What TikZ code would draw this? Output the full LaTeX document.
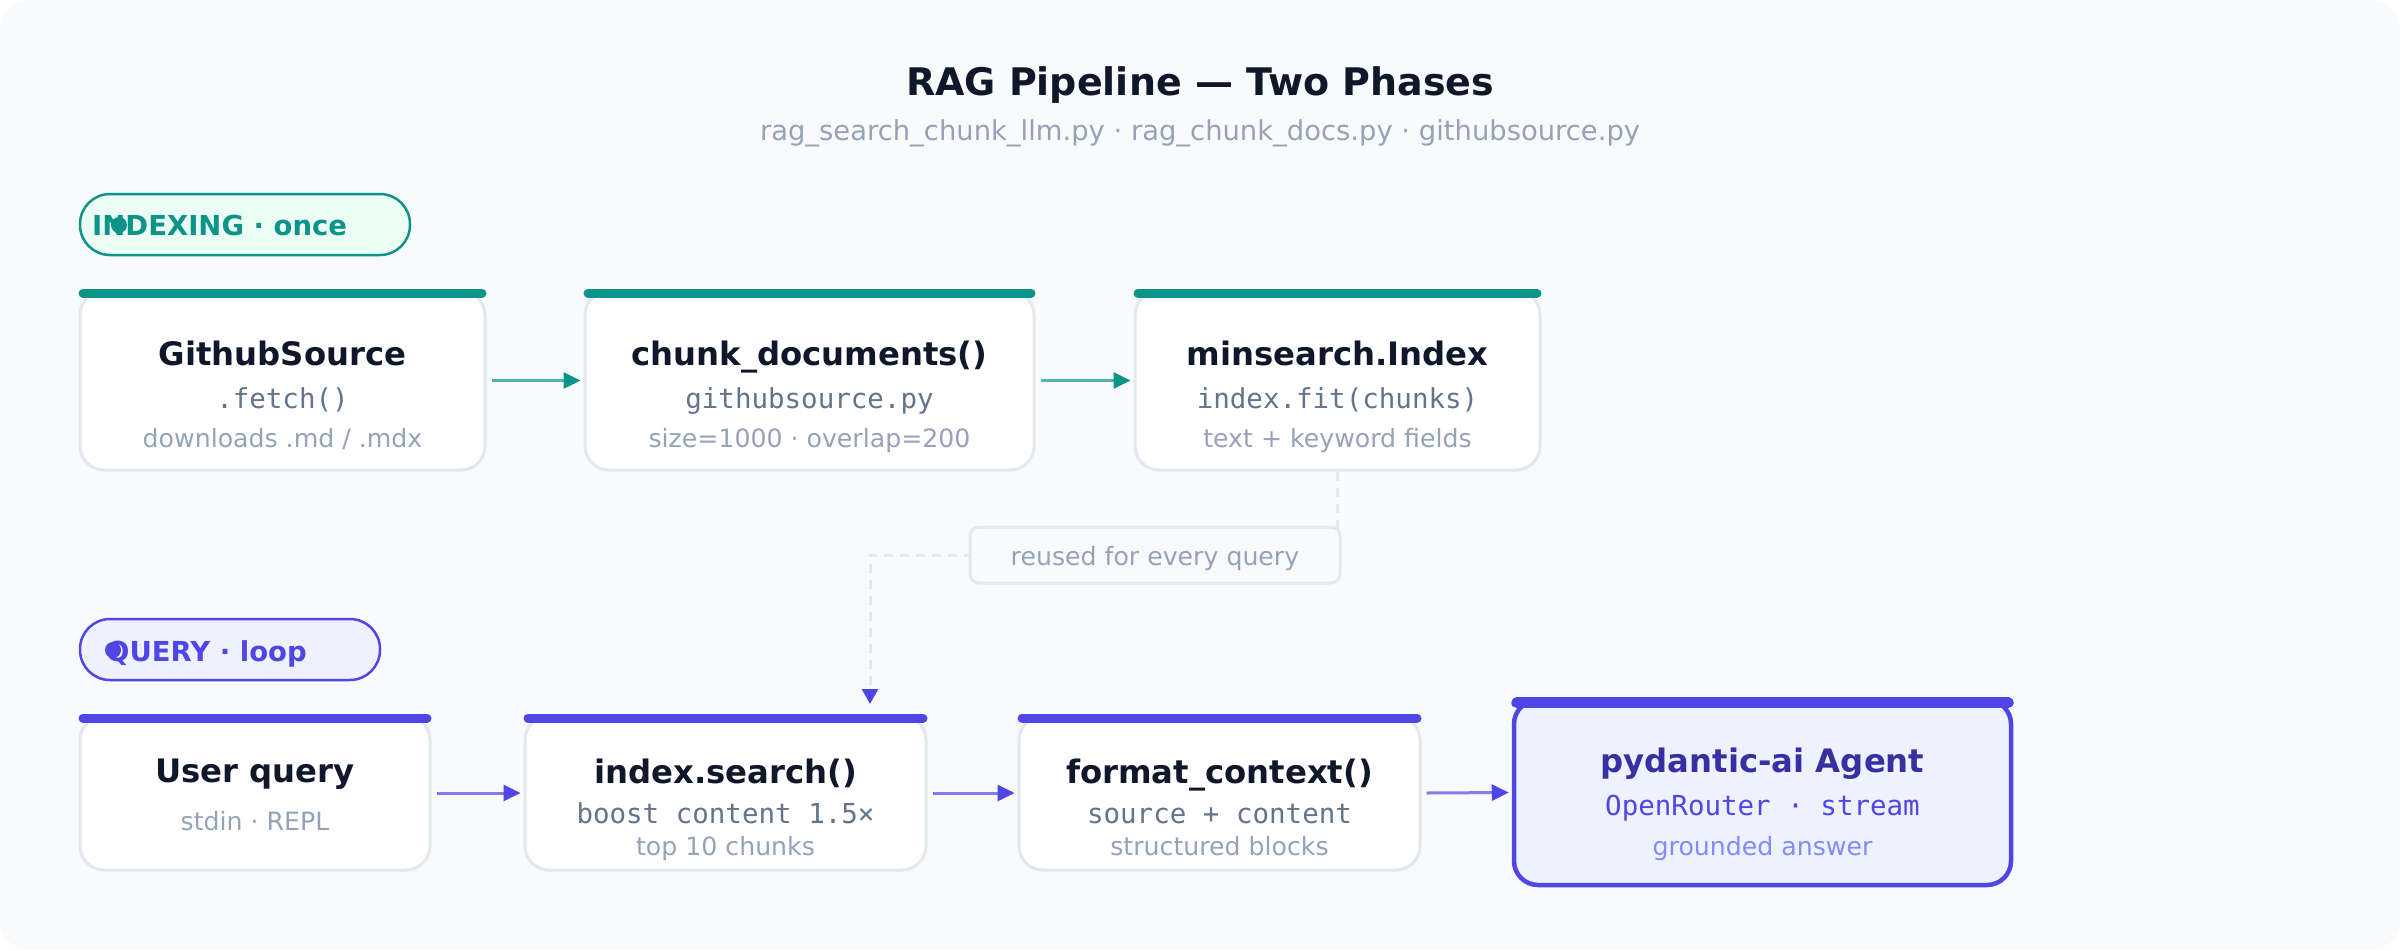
\documentclass[tikz,border=0pt]{standalone}
\usepackage{fontspec}
\setmainfont{DejaVu Sans}
\setmonofont{DejaVu Sans Mono}
\usetikzlibrary{arrows.meta,calc}
\definecolor{bgc}{HTML}{F8FAFC}
\definecolor{bordc}{HTML}{E2E8F0}
\definecolor{tealc}{HTML}{0D9488}
\definecolor{indigoc}{HTML}{4F46E5}
\definecolor{darkc}{HTML}{0F172A}
\definecolor{slatefive}{HTML}{64748B}
\definecolor{slatefour}{HTML}{94A3B8}
\definecolor{mintc}{HTML}{ECFDF5}
\definecolor{indigolt}{HTML}{EEF2FF}
\definecolor{indigodk}{HTML}{3730A3}
\definecolor{indigosub}{HTML}{818CF8}
\tikzset{
  card/.style={draw=bordc, line width=3pt, fill=white, rounded corners=24pt, inner sep=0pt},
  agentcard/.style={draw=indigoc, line width=4.5pt, fill=indigolt, rounded corners=24pt, inner sep=0pt},
  topbar/.style={line width=9pt, line cap=round},
  ttl/.style={anchor=base, inner sep=0pt, text=darkc, font=\fontsize{32.3}{38}\selectfont\bfseries},
  mon/.style={anchor=base, inner sep=0pt, text=slatefive, font=\fontsize{27.5}{32}\selectfont\ttfamily},
  sub/.style={anchor=base, inner sep=0pt, text=slatefour, font=\fontsize{25.2}{30}\selectfont},
  badge/.style={line width=2.5pt, rounded corners=30pt, inner sep=0pt, minimum height=61pt},
  badgetext/.style={anchor=base west, inner sep=0pt, font=\fontsize{27.5}{32}\selectfont\bfseries},
  tarrow/.style={draw=tealc!70!bgc, line width=3pt, -{Triangle[length=17pt,width=16pt,color=tealc]}},
  qarrow/.style={draw=indigoc!70!bgc, line width=3pt, -{Triangle[length=17pt,width=16pt,color=indigoc]}},
  dashline/.style={draw=bordc, line width=3pt, dash pattern=on 9pt off 7pt, -{Triangle[length=15pt,width=16pt,color=indigoc]}}
}
\begin{document}
\begin{tikzpicture}[x=1pt,y=-1pt]
\useasboundingbox (0,0) rectangle (2400,950);
\fill[white] (0,0) rectangle (2400,950);
\fill[bgc, rounded corners=30pt] (0,0) rectangle (2400,950);

% title
\node[anchor=base, inner sep=0pt, text=darkc, font=\fontsize{38}{44}\selectfont\bfseries] (title) at (1200,95) {RAG Pipeline — Two Phases};
\node[anchor=base, inner sep=0pt, text=slatefour, font=\fontsize{27.4}{32}\selectfont] (subtitle) at (1200,140) {rag\_search\_chunk\_llm.py · rag\_chunk\_docs.py · githubsource.py};

% badges
\node[badge, draw=tealc, fill=mintc, minimum width=330pt] (bidx) at (245,224.5) {};
\node[badgetext, text=tealc] (bidxt) at (92,235) {INDEXING · once};
\fill[tealc] (119,225) circle (8pt);

\node[badge, draw=indigoc, fill=indigolt, minimum width=300pt] (bqry) at (230,649.5) {};
\node[badgetext, text=indigoc] (bqryt) at (106,661) {QUERY · loop};
\fill[indigoc] (113,650) circle (8pt);

% indexing row
\node[card, minimum width=405pt, minimum height=179pt] (A) at (282.5,380.5) {};
\node[card, minimum width=449pt, minimum height=179pt] (B) at (809.5,380.5) {};
\node[card, minimum width=405pt, minimum height=179pt] (C) at (1337.5,380.5) {};
\foreach \n in {A,B,C}{
  \draw[topbar, tealc] ($(\n.north west)+(4.5,3.5)$) -- ($(\n.north east)+(-4.5,3.5)$);
}
\node[ttl] (At) at (282.5,365) {GithubSource};
\node[mon] (Am) at (282.5,408) {.fetch()};
\node[sub] (As) at (282.5,447) {downloads .md / .mdx};
\node[ttl] (Bt) at (809.5,365) {chunk\_documents()};
\node[mon] (Bm) at (809.5,408) {githubsource.py};
\node[sub] (Bs) at (809.5,447) {size=1000 · overlap=200};
\node[ttl] (Ct) at (1337.5,365) {minsearch.Index};
\node[mon] (Cm) at (1337.5,408) {index.fit(chunks)};
\node[sub] (Cs) at (1337.5,447) {text + keyword fields};

\draw[tarrow] ([xshift=5pt]A.east) -- ([xshift=-3pt]B.west);
\draw[tarrow] ([xshift=5pt]B.east) -- ([xshift=-3pt]C.west);

% query row
\node[card, minimum width=350pt, minimum height=154pt] (D) at (255,793) {};
\node[card, minimum width=401pt, minimum height=154pt] (E) at (725.5,793) {};
\node[card, minimum width=401pt, minimum height=154pt] (F) at (1219.5,793) {};
\foreach \n in {D,E,F}{
  \draw[topbar, indigoc] ($(\n.north west)+(4.5,3.5)$) -- ($(\n.north east)+(-4.5,3.5)$);
}
\node[agentcard, minimum width=497pt, minimum height=185pt] (G) at (1762.5,792.5) {};
\draw[line width=11pt, line cap=round, indigoc] ($(G.north west)+(5,5)$) -- ($(G.north east)+(-5,5)$);

\node[ttl] (Dt) at (255,782) {User query};
\node[sub] (Ds) at (255,830) {stdin · REPL};
\node[ttl] (Et) at (725.5,783) {index.search()};
\node[mon] (Em) at (725.5,823) {boost content 1.5×};
\node[sub] (Es) at (725.5,855) {top 10 chunks};
\node[ttl] (Ft) at (1219.5,783) {format\_context()};
\node[mon] (Fm) at (1219.5,823) {source + content};
\node[sub] (Fs) at (1219.5,855) {structured blocks};
\node[ttl, text=indigodk] (Gt) at (1762.5,772) {pydantic-ai Agent};
\node[mon, text=indigoc] (Gm) at (1762.5,815) {OpenRouter · stream};
\node[sub, text=indigosub] (Gs) at (1762.5,855) {grounded answer};

\draw[qarrow] ([xshift=5pt]D.east) -- ([xshift=-3pt]E.west);
\draw[qarrow] ([xshift=5pt]E.east) -- ([xshift=-3pt]F.west);
\draw[qarrow] ([xshift=5pt]F.east) -- ([xshift=-3pt]G.west);

% reuse connector
\coordinate (bendA) at (1337.5,555);
\coordinate (bendB) at (870,555);
\coordinate (ein) at (870,716);
\draw[dashline, shorten >=12pt] (C.south) -- (bendA) -- (bendB) -- (ein);
\node[draw=bordc, line width=3pt, fill=bgc, rounded corners=9pt, minimum width=370pt, minimum height=56pt, inner sep=0pt] (note) at (1155,555) {};
\node[sub] (notet) at (1155,565) {reused for every query};
\end{tikzpicture}
\end{document}
